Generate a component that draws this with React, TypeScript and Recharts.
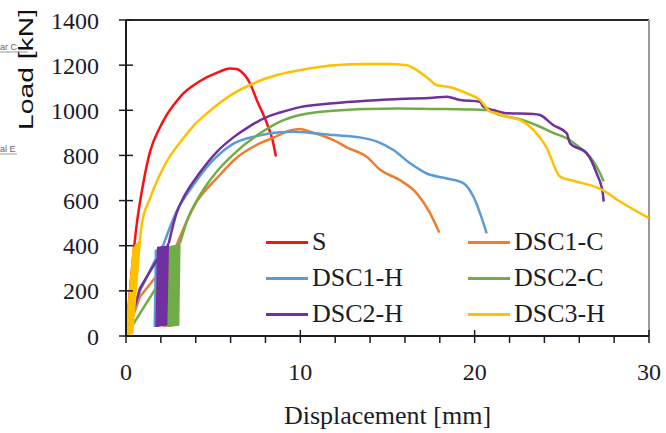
import { Line, LineChart, ReferenceLine, XAxis, YAxis } from 'recharts';

// displacement [mm], load [kN].
// *_CYC = initial loading + unload/reload cycles, the rest = the envelope after the cycles
const S_PTS: [number, number][] = [
  [0, 0], [0.61, 492], [0.99, 677], [1.38, 817], [1.95, 925], [2.33, 979], [2.9, 1040], [3.29, 1075],
  [3.86, 1110], [4.25, 1130], [5.2, 1166], [5.97, 1185], [6.35, 1183], [6.6, 1172], [7.11, 1120], [7.5, 1046],
  [8.07, 945], [8.4, 870], [8.6, 795],
];

const DSC1_C_CYC: [number, number][] = [
  [0, 0], [0.8, 174], [1.95, 285], [2.3, 340], [2.2, 40], [2.28, 342], [2.26, 40], [2.34, 344], [2.32, 42],
  [2.4, 346], [2.38, 42], [2.46, 348], [2.44, 44], [2.52, 350], [2.5, 45], [2.6, 340],
];
const DSC1_C: [number, number][] = [
  [2.6, 340], [3.1, 440], [4.06, 595], [5.2, 698], [6.35, 790], [7.69, 854], [8.5, 880], [9.2, 905],
  [9.98, 917], [10.56, 905], [11.9, 868], [12.66, 836], [13.8, 794], [14.6, 735], [15.7, 691], [16.68, 632],
  [17.44, 544], [17.97, 458],
];

const DSC1_H_CYC: [number, number][] = [
  [0, 0], [0.8, 200], [1.95, 380], [1.65, 40], [1.72, 382], [1.7, 40], [1.78, 384], [1.76, 42], [1.84, 386],
  [1.82, 42], [1.9, 388], [1.88, 43], [1.96, 390], [1.94, 44], [2.02, 392], [2.0, 45], [2.08, 396], [2.14, 403],
];
const DSC1_H: [number, number][] = [
  [2.14, 403], [2.9, 551], [3.86, 669], [5.2, 795], [6.16, 852], [7.5, 886], [8.84, 903], [9.6, 905],
  [11.9, 890], [13.4, 880], [14.4, 861], [15.34, 824], [16.3, 765], [17.25, 720], [18.4, 698], [19.35, 677],
  [19.93, 617], [20.69, 455],
];

const DSC2_C_CYC: [number, number][] = [
  [0, 0], [0.8, 100], [1.95, 241], [2.7, 395], [2.45, 40], [2.52, 398], [2.51, 40], [2.58, 399], [2.57, 41],
  [2.64, 400], [2.63, 42], [2.7, 401], [2.69, 42], [2.76, 402], [2.75, 43], [2.82, 403], [2.81, 44],
  [2.88, 404], [2.87, 44], [2.94, 405], [2.93, 45], [3.0, 406], [2.99, 45], [3.06, 408], [3.1, 412],
];
const DSC2_C: [number, number][] = [
  [3.1, 412], [3.48, 506], [4.25, 625], [5.2, 728], [6.16, 805], [7.69, 898], [8.84, 950], [9.98, 979],
  [11.9, 998], [13.8, 1006], [15.7, 1008], [17.6, 1006], [19.55, 1004], [20.7, 1001], [21.46, 979],
  [22.6, 960], [23.75, 927], [24.5, 900], [25.28, 876], [26.2, 824], [26.43, 809], [27.2, 720], [27.4, 685],
];

const DSC2_H_CYC: [number, number][] = [
  [0, 0], [0.8, 211], [2.2, 392], [1.76, 40], [1.85, 395], [1.82, 40], [1.91, 396], [1.88, 42], [1.97, 396],
  [1.94, 42], [2.03, 397], [2.0, 43], [2.09, 398], [2.06, 43], [2.15, 398], [2.12, 44], [2.21, 399],
  [2.18, 44], [2.27, 400], [2.24, 45], [2.33, 400], [2.3, 45], [2.4, 405], [2.45, 410],
];
const DSC2_H: [number, number][] = [
  [2.45, 410], [2.9, 545], [3.29, 612], [4.25, 725], [5.2, 815], [6.16, 880], [7.11, 930], [8.07, 970],
  [8.84, 990], [9.98, 1014], [11.9, 1031], [13.8, 1042], [15.7, 1050], [17.6, 1055], [18.4, 1060],
  [19.16, 1046], [20.3, 1038], [20.5, 1016], [21.07, 1001], [21.84, 987], [23.37, 984], [23.75, 979],
  [24.5, 935], [25.28, 898], [25.47, 854], [26.43, 809], [27.0, 720], [27.35, 632], [27.4, 595],
];

const DSC3_H_CYC: [number, number][] = [
  [0, 0], [0.45, 390], [0.05, 5], [0.5, 395], [0.1, 5], [0.55, 400], [0.15, 5], [0.6, 405], [0.2, 5],
  [0.65, 410], [0.25, 8], [0.7, 415], [0.3, 8], [0.75, 420], [0.35, 10], [0.8, 425],
];
const DSC3_H: [number, number][] = [
  [0.8, 425], [0.9, 492], [1.38, 610], [2.33, 772], [3.29, 876], [3.86, 930], [4.7, 990], [5.97, 1065],
  [7.1, 1112], [8.65, 1156], [10.56, 1186], [11.9, 1200], [13.8, 1205], [15.0, 1205], [16.1, 1200],
  [16.68, 1178], [17.44, 1134], [17.8, 1112], [18.6, 1102], [19.55, 1075], [20.3, 1046], [20.9, 994],
  [21.27, 987], [21.8, 972], [22.6, 957], [23.37, 913], [24.1, 839], [24.9, 706], [25.86, 684], [27.2, 652],
  [28.5, 588], [30, 522],
];

const X_TICKS = [0, 2, 4, 6, 8, 10, 12, 14, 16, 18, 20, 22, 24, 26, 28, 30];
const X_LABELS = [0, 10, 20, 30];
const Y_TICKS = [0, 100, 200, 300, 400, 500, 600, 700, 800, 900, 1000, 1100, 1200, 1300, 1400];
const Y_LABELS = [0, 200, 400, 600, 800, 1000, 1200, 1400];

const SERIES = [
  { name: 'S', color: '#ff1010', cyc: [] as [number, number][], env: S_PTS },
  { name: 'DSC1-C', color: '#ed7d31', cyc: DSC1_C_CYC, env: DSC1_C },
  { name: 'DSC1-H', color: '#5b9bd5', cyc: DSC1_H_CYC, env: DSC1_H },
  { name: 'DSC2-C', color: '#70ad47', cyc: DSC2_C_CYC, env: DSC2_C },
  { name: 'DSC2-H', color: '#7030a0', cyc: DSC2_H_CYC, env: DSC2_H },
  { name: 'DSC3-H', color: '#ffc000', cyc: DSC3_H_CYC, env: DSC3_H },
];

const SERIF = "'Liberation Serif', 'Times New Roman', serif";
const INK = '#1c1c24';

const toRows = (pts: [number, number][]) => pts.map(([x, y]) => ({ x, y }));

function YTick({ x, y, payload }: any) {
  const v = payload.value;
  const major = Y_LABELS.includes(v);
  return (
    <g>
      <line x1={x - 7} x2={major ? x + 7 : x} y1={y} y2={y} stroke={INK} strokeWidth={1.5} />
      {major && (
        <text x={x - 27} y={y} dy="0.36em" textAnchor="end" fontFamily={SERIF} fontSize={24} fill={INK}>
          {v}
        </text>
      )}
    </g>
  );
}

function XTick({ x, y, payload }: any) {
  const v = payload.value;
  const major = X_LABELS.includes(v);
  return (
    <g>
      <line x1={x} x2={x} y1={major ? y - 6 : y} y2={y + 7} stroke={INK} strokeWidth={1.5} />
      {major && (
        <text x={x} y={y + 44} textAnchor="middle" fontFamily={SERIF} fontSize={24} fill={INK}>
          {v}
        </text>
      )}
    </g>
  );
}

export default function App() {
  return (
    <div style={{ position: 'absolute', left: 0, top: 0, width: 666, height: 433, background: '#fff' }}>
      <LineChart width={666} height={433} margin={{ top: 20, right: 17, left: 26, bottom: 37 }}>
        <XAxis
          type="number"
          dataKey="x"
          domain={[0, 30]}
          ticks={X_TICKS}
          tick={<XTick />}
          tickLine={false}
          tickSize={0}
          tickMargin={0}
          height={60}
          axisLine={{ stroke: INK, strokeWidth: 2 }}
          allowDataOverflow
        />
        <YAxis
          type="number"
          dataKey="y"
          domain={[0, 1400]}
          ticks={Y_TICKS}
          tick={<YTick />}
          tickLine={false}
          tickSize={0}
          tickMargin={0}
          width={100}
          axisLine={{ stroke: INK, strokeWidth: 2 }}
          allowDataOverflow
        />
        <ReferenceLine y={1400} stroke="#2a2a2a" strokeWidth={2} />
        <ReferenceLine x={30} stroke="#9a9a9a" strokeWidth={2} />
        {SERIES.flatMap((s) => [
          s.cyc.length > 0 && (
            <Line
              key={s.name + '-cyc'}
              data={toRows(s.cyc)}
              dataKey="y"
              type="linear"
              stroke={s.color}
              strokeWidth={2.5}
              dot={false}
              activeDot={false}
              legendType="none"
              isAnimationActive={false}
            />
          ),
          <Line
            key={s.name}
            name={s.name}
            data={toRows(s.env)}
            dataKey="y"
            type="monotone"
            stroke={s.color}
            strokeWidth={2.5}
            dot={false}
            activeDot={false}
            isAnimationActive={false}
          />,
        ])}
      </LineChart>

      <svg width={666} height={433} style={{ position: 'absolute', left: 0, top: 0, pointerEvents: 'none' }}>
        <text
          transform="translate(33, 130) rotate(-90)"
          fontFamily="'Liberation Sans', Arial, sans-serif"
          fontSize={21}
          fill="#111"
          textLength={121}
          lengthAdjust="spacingAndGlyphs"
        >
          Load [kN]
        </text>
        <text x={387.5} y={424} textAnchor="middle" fontFamily={SERIF} fontSize={26} fill={INK}>
          Displacement [mm]
        </text>
        <text x={0} y={50} fontFamily="'Liberation Sans', Arial, sans-serif" fontSize={9} fill="#666">ar C</text>
        <line x1={0} x2={28} y1={52} y2={52} stroke="#999" strokeWidth={1} />
        <text x={0} y={152} fontFamily="'Liberation Sans', Arial, sans-serif" fontSize={9} fill="#666">al E</text>
        <line x1={0} x2={17} y1={154} y2={154} stroke="#999" strokeWidth={1} />
      </svg>

      <div
        style={{
          position: 'absolute',
          left: 266,
          top: 224,
          display: 'grid',
          gridTemplateColumns: '202px 160px',
          gridAutoRows: '36px',
          fontFamily: SERIF,
          fontSize: 26,
          color: INK,
        }}
      >
        {SERIES.map((s) => (
          <div key={s.name} style={{ display: 'flex', alignItems: 'center', lineHeight: '36px' }}>
            <span style={{ display: 'inline-block', width: 42, height: 3, background: s.color, marginRight: 4 }} />
            <span>{s.name}</span>
          </div>
        ))}
      </div>
    </div>
  );
}
